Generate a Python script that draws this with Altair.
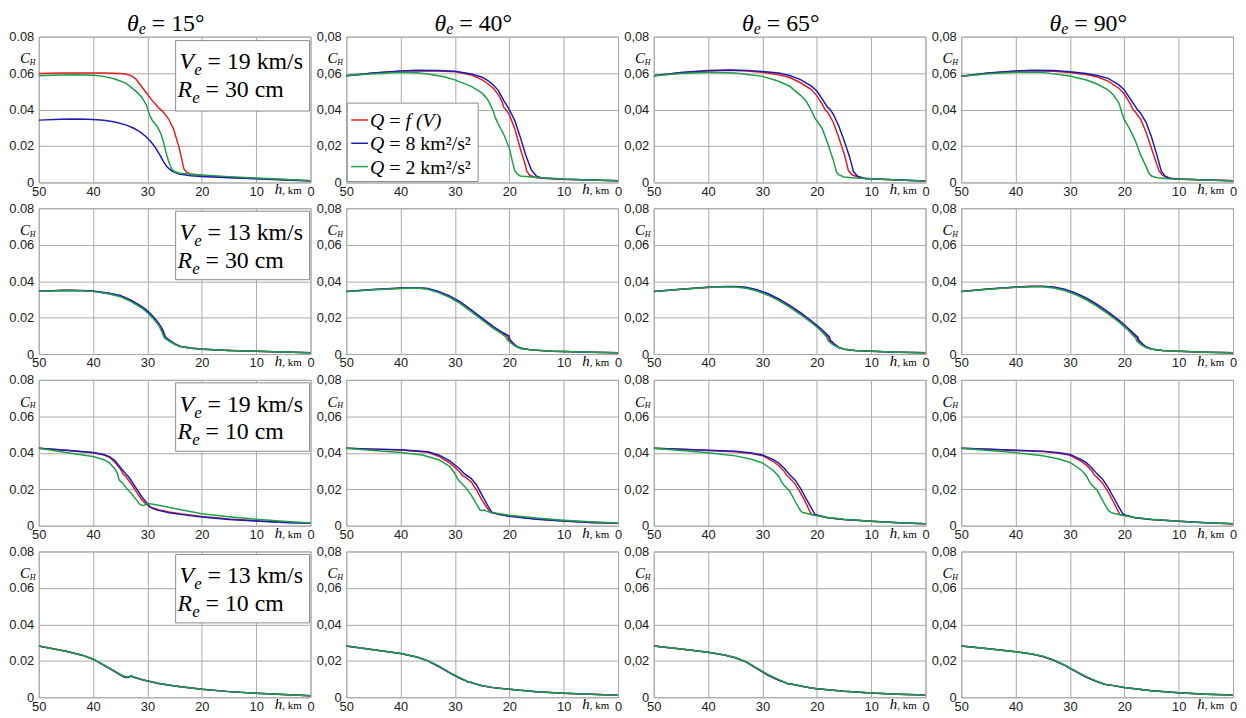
import altair as alt
import pandas as pd

# ---------------- data (h in km, C_H) ----------------
THETA = ["15", "40", "65", "90"]
ROW_V = ["19", "13", "19", "13"]
ROW_R = ["30", "30", "10", "10"]
X_TICKS = [50, 40, 30, 20, 10, 0]
Y_TICKS = [0, 0.02, 0.04, 0.06, 0.08]
LEGEND = ["f (V)", "8 km²/s²", "2 km²/s²"]

# Row 1: Ve = 19 km/s, Re = 30 cm
P11_RED = [(50,0.0598),(46,0.0600),(42,0.0601),(38,0.0600),(35,0.0598),(34,0.0595),(33,0.0586),(32.2,0.0570),(31.5,0.0543),(30.3,0.0495),(29.1,0.0449),(27.9,0.0408),(27.3,0.0393),(26.7,0.0372),(26.1,0.0348),(25.2,0.0293),(24.2,0.0194),(23.3,0.0075),(22.8,0.0056),(22,0.0046),(20,0.0038),(15,0.0029),(10,0.0022),(5,0.0016),(0,0.0010)]
P11_BLUE = [(50,0.0342),(46,0.0347),(43,0.0348),(40,0.0346),(38,0.0341),(36,0.0332),(34,0.0316),(32.7,0.0300),(31.5,0.0280),(30.3,0.0252),(29.4,0.0225),(28.5,0.0190),(27.7,0.0150),(27,0.0112),(26.5,0.0090),(26.2,0.0080),(25.5,0.0062),(24.2,0.0046),(22,0.0037),(20,0.0033),(15,0.0026),(10,0.0020),(5,0.0014),(0,0.0008)]
P11_GREEN = [(50,0.0586),(46,0.0590),(43,0.0591),(40,0.0588),(38,0.0582),(36,0.0568),(34,0.0545),(33,0.0522),(32,0.0497),(31,0.0466),(30.2,0.0425),(29.6,0.0370),(29.1,0.0340),(28.5,0.0318),(28,0.0295),(27.5,0.0265),(27,0.0215),(26.5,0.0155),(26,0.0105),(25.5,0.0072),(25,0.0060),(24,0.0051),(22,0.0045),(20,0.0041),(15,0.0032),(10,0.0025),(5,0.0017),(0,0.0010)]

P12_RED = [(50,0.0585),(45,0.0600),(40,0.0610),(37,0.0613),(33,0.0612),(30,0.0608),(27,0.0590),(25,0.0563),(24,0.0543),(23,0.0518),(22,0.0482),(21.3,0.0440),(21,0.0412),(20.6,0.0398),(20,0.0372),(19,0.0295),(18,0.0188),(17,0.0090),(16.8,0.0062),(16.2,0.0038),(15,0.0026),(14,0.0023),(10,0.0017),(5,0.0013),(0,0.0010)]
P12_BLUE = [(50,0.0585),(45,0.0601),(40,0.0612),(37,0.0615),(33,0.0614),(30,0.0610),(27,0.0595),(25,0.0577),(24,0.0560),(23,0.0536),(22,0.0504),(21,0.0448),(20.4,0.0420),(20,0.0400),(19,0.0340),(18,0.0250),(17,0.0152),(16,0.0072),(15.6,0.0056),(15,0.0035),(14,0.0025),(10,0.0017),(5,0.0013),(0,0.0010)]
P12_GREEN = [(50,0.0585),(45,0.0597),(40,0.0605),(37,0.0602),(35,0.0595),(32,0.0580),(30,0.0563),(27,0.0527),(25,0.0490),(24,0.0455),(23,0.0395),(22.5,0.0350),(22,0.0318),(21,0.0262),(20,0.0188),(19.4,0.0110),(19,0.0065),(18.5,0.0045),(18,0.0036),(16,0.0030),(14,0.0026),(10,0.0019),(5,0.0014),(0,0.0010)]

P13_RED = [(50,0.0585),(45,0.0602),(40,0.0612),(36,0.0615),(33,0.0612),(30,0.0605),(27,0.0591),(25,0.0576),(23,0.0547),(21,0.0510),(20,0.0475),(19,0.0430),(18.4,0.0395),(18,0.0385),(17,0.0332),(16,0.0250),(15,0.0160),(14.5,0.0105),(14.2,0.0065),(13.5,0.0042),(12,0.0025),(10,0.0020),(5,0.0014),(0,0.0008)]
P13_BLUE = [(50,0.0585),(45,0.0603),(40,0.0614),(36,0.0617),(33,0.0615),(30,0.0609),(27,0.0600),(25,0.0587),(23,0.0564),(21,0.0528),(20,0.0502),(19,0.0457),(18,0.0412),(17.7,0.0405),(17,0.0376),(16,0.0313),(15,0.0232),(14,0.0142),(13.5,0.0088),(13.3,0.0062),(12.5,0.0034),(11,0.0021),(10,0.0020),(5,0.0014),(0,0.0008)]
P13_GREEN = [(50,0.0585),(45,0.0598),(40,0.0605),(35,0.0601),(30,0.0582),(27,0.0555),(25,0.0528),(23,0.0478),(22,0.0448),(21,0.0395),(20.3,0.0350),(19.5,0.0318),(19,0.0295),(18,0.0215),(17,0.0125),(16.4,0.0058),(16,0.0043),(15,0.0030),(13,0.0024),(10,0.0020),(5,0.0014),(0,0.0008)]

P14_RED = [(50,0.0583),(45,0.0600),(40,0.0610),(37,0.0613),(33,0.0610),(30,0.0603),(27,0.0592),(25,0.0580),(23,0.0556),(21,0.0517),(20,0.0485),(19,0.0437),(18.3,0.0395),(18,0.0388),(17,0.0347),(16,0.0276),(15,0.0186),(14,0.0097),(13.6,0.0062),(13,0.0040),(12,0.0025),(10,0.0019),(5,0.0014),(0,0.0010)]
P14_BLUE = [(50,0.0583),(45,0.0601),(40,0.0612),(37,0.0616),(33,0.0614),(30,0.0607),(27,0.0598),(25,0.0587),(23,0.0571),(21,0.0535),(20,0.0508),(19,0.0463),(18,0.0419),(17.6,0.0400),(17,0.0380),(16,0.0330),(15,0.0249),(14,0.0150),(13.2,0.0062),(12.5,0.0035),(11.5,0.0022),(10,0.0019),(5,0.0014),(0,0.0010)]
P14_GREEN = [(50,0.0583),(45,0.0597),(40,0.0605),(35,0.0604),(30,0.0584),(27,0.0562),(25,0.0540),(23,0.0508),(22,0.0480),(21,0.0437),(20.3,0.0368),(20,0.0345),(19,0.0293),(18,0.0231),(17,0.0150),(16,0.0088),(15.5,0.0052),(15,0.0035),(14,0.0026),(12,0.0021),(10,0.0018),(5,0.0014),(0,0.0010)]

# Row 2: Ve = 13 km/s, Re = 30 cm
P21_RED = [(50,0.0344),(45,0.0350),(42,0.0348),(40,0.0345),(37,0.0332),(35,0.0318),(33,0.0292),(31,0.0256),(30,0.0232),(29,0.0202),(28,0.0166),(27.3,0.0130),(26.8,0.0093),(26.2,0.0078),(25,0.0055),(24,0.0042),(22,0.0032),(20,0.0027),(15,0.0020),(10,0.0015),(5,0.0011),(0,0.0007)]
P21_BLUE = [(50,0.0344),(45,0.0350),(42,0.0349),(40,0.0346),(37,0.0334),(35,0.0321),(33,0.0296),(31,0.0260),(30,0.0237),(29,0.0207),(28,0.0172),(27.2,0.0135),(26.7,0.0095),(26.1,0.0080),(25,0.0057),(24,0.0043),(22,0.0033),(20,0.0028),(15,0.0020),(10,0.0015),(5,0.0011),(0,0.0007)]
P21_GREEN = [(50,0.0344),(45,0.0349),(42,0.0347),(40,0.0344),(37,0.0330),(35,0.0315),(33,0.0288),(31,0.0252),(30,0.0227),(29,0.0197),(28,0.0161),(27.4,0.0126),(26.9,0.0090),(26.3,0.0077),(25,0.0054),(24,0.0041),(22,0.0032),(20,0.0027),(15,0.0020),(10,0.0015),(5,0.0011),(0,0.0007)]

P22_RED = [(50,0.0343),(45,0.0354),(40,0.0361),(37,0.0363),(35,0.0358),(33,0.0340),(31,0.0315),(29,0.0282),(27,0.0238),(25,0.0192),(23,0.0147),(21.5,0.0118),(20.3,0.0097),(20.1,0.0078),(19.5,0.0060),(19,0.0047),(18,0.0032),(16,0.0023),(12,0.0016),(10,0.0014),(5,0.0010),(0,0.0007)]
P22_BLUE = [(50,0.0343),(45,0.0354),(40,0.0362),(37,0.0364),(35,0.0360),(33,0.0343),(31,0.0319),(29,0.0287),(27,0.0243),(25,0.0197),(23,0.0152),(21.5,0.0123),(20.1,0.0100),(19.9,0.0080),(19.3,0.0060),(18.8,0.0046),(18,0.0033),(16,0.0023),(12,0.0016),(10,0.0014),(5,0.0010),(0,0.0007)]
P22_GREEN = [(50,0.0343),(45,0.0353),(40,0.0360),(37,0.0362),(35,0.0356),(33,0.0337),(31,0.0311),(29,0.0277),(27,0.0233),(25,0.0187),(23,0.0142),(21.5,0.0113),(20.6,0.0093),(20.3,0.0075),(19.6,0.0058),(19,0.0045),(18,0.0031),(16,0.0022),(12,0.0016),(10,0.0014),(5,0.0010),(0,0.0007)]

P23_RED = [(50,0.0343),(45,0.0356),(40,0.0366),(37,0.0370),(35,0.0370),(33,0.0364),(31,0.0350),(29,0.0328),(27,0.0298),(25,0.0262),(23,0.0222),(21,0.0178),(19.5,0.0140),(18.3,0.0105),(17.9,0.0092),(17.7,0.0074),(17,0.0055),(16,0.0036),(15,0.0026),(13,0.0019),(10,0.0015),(5,0.0010),(0,0.0007)]
P23_BLUE = [(50,0.0343),(45,0.0356),(40,0.0367),(37,0.0371),(35,0.0371),(33,0.0366),(31,0.0353),(29,0.0332),(27,0.0303),(25,0.0267),(23,0.0227),(21,0.0183),(19.5,0.0145),(18.2,0.0110),(17.7,0.0095),(17.5,0.0076),(16.8,0.0056),(16,0.0038),(15,0.0027),(13,0.0019),(10,0.0015),(5,0.0010),(0,0.0007)]
P23_GREEN = [(50,0.0343),(45,0.0355),(40,0.0365),(37,0.0369),(35,0.0368),(33,0.0361),(31,0.0346),(29,0.0323),(27,0.0293),(25,0.0257),(23,0.0217),(21,0.0173),(19.5,0.0135),(18.5,0.0105),(18.1,0.0090),(17.9,0.0072),(17.2,0.0054),(16,0.0035),(15,0.0026),(13,0.0019),(10,0.0015),(5,0.0010),(0,0.0007)]

P24_RED = [(50,0.0343),(45,0.0357),(40,0.0367),(37,0.0371),(35,0.0371),(33,0.0366),(31,0.0353),(29,0.0332),(27,0.0303),(25,0.0267),(23,0.0226),(21,0.0181),(19.5,0.0142),(18.2,0.0104),(17.7,0.0090),(17.5,0.0073),(16.8,0.0054),(16,0.0038),(15,0.0027),(13,0.0019),(10,0.0015),(5,0.0010),(0,0.0007)]
P24_BLUE = [(50,0.0343),(45,0.0357),(40,0.0368),(37,0.0372),(35,0.0372),(33,0.0368),(31,0.0356),(29,0.0336),(27,0.0308),(25,0.0272),(23,0.0231),(21,0.0186),(19.5,0.0147),(18.1,0.0108),(17.5,0.0093),(17.3,0.0075),(16.6,0.0055),(16,0.0040),(15,0.0028),(13,0.0019),(10,0.0015),(5,0.0010),(0,0.0007)]
P24_GREEN = [(50,0.0343),(45,0.0356),(40,0.0366),(37,0.0370),(35,0.0369),(33,0.0363),(31,0.0349),(29,0.0327),(27,0.0298),(25,0.0262),(23,0.0221),(21,0.0176),(19.5,0.0137),(18.4,0.0102),(17.9,0.0088),(17.7,0.0071),(17,0.0053),(16,0.0036),(15,0.0026),(13,0.0019),(10,0.0015),(5,0.0010),(0,0.0007)]

# Row 3: Ve = 19 km/s, Re = 10 cm
P31_RED = [(50,0.0425),(45,0.0414),(40,0.0400),(38,0.0388),(37,0.0375),(36,0.0348),(35,0.0312),(34.5,0.0284),(34,0.0270),(33,0.0230),(32,0.0184),(31,0.0140),(30,0.0112),(29.5,0.0102),(29,0.0097),(28,0.0088),(26,0.0075),(24,0.0066),(20,0.0051),(15,0.0037),(10,0.0027),(5,0.0019),(0,0.0013)]
P31_BLUE = [(50,0.0425),(45,0.0414),(40,0.0401),(38,0.0390),(37,0.0379),(36,0.0357),(35,0.0321),(34,0.0285),(33.5,0.0270),(33,0.0248),(32,0.0202),(31,0.0157),(30,0.0121),(29.5,0.0103),(29,0.0094),(28,0.0084),(26,0.0071),(24,0.0062),(20,0.0047),(15,0.0034),(10,0.0025),(5,0.0018),(0,0.0013)]
P31_GREEN = [(50,0.0425),(45,0.0401),(40,0.0379),(38,0.0362),(37,0.0345),(36,0.0312),(35.5,0.0285),(35.2,0.0250),(34.5,0.0232),(34,0.0210),(33,0.0178),(32,0.0140),(31.5,0.0120),(31,0.0111),(30.6,0.0112),(30,0.0122),(29,0.0118),(27,0.0106),(25,0.0094),(20,0.0066),(15,0.0049),(10,0.0035),(5,0.0024),(0,0.0015)]

P32_RED = [(50,0.0425),(45,0.0420),(40,0.0415),(35,0.0403),(33,0.0381),(31,0.0344),(30,0.0320),(29,0.0290),(28.6,0.0275),(28,0.0265),(27,0.0240),(26,0.0193),(25,0.0139),(24,0.0094),(23.5,0.0072),(23,0.0069),(22,0.0063),(20,0.0053),(15,0.0036),(10,0.0026),(5,0.0018),(0,0.0013)]
P32_BLUE = [(50,0.0425),(45,0.0420),(40,0.0416),(35,0.0405),(33,0.0388),(31,0.0357),(30,0.0333),(29,0.0308),(28.3,0.0285),(27,0.0258),(26,0.0222),(25,0.0166),(24,0.0112),(23.3,0.0076),(23,0.0072),(22,0.0063),(20,0.0052),(15,0.0035),(10,0.0025),(5,0.0018),(0,0.0013)]
P32_GREEN = [(50,0.0425),(45,0.0413),(40,0.0401),(36,0.0388),(33,0.0362),(31,0.0326),(30,0.0285),(29.5,0.0256),(29,0.0238),(28,0.0208),(27,0.0168),(26,0.0117),(25.4,0.0086),(25,0.0083),(24.6,0.0086),(24,0.0077),(23,0.0071),(20,0.0057),(15,0.0042),(10,0.0030),(5,0.0021),(0,0.0015)]

P33_RED = [(50,0.0425),(45,0.0419),(40,0.0413),(35,0.0406),(32,0.0396),(30,0.0384),(28,0.0352),(27,0.0329),(26,0.0298),(25.5,0.0275),(25,0.0262),(24,0.0228),(23,0.0180),(22,0.0124),(21.2,0.0072),(20.9,0.0061),(20,0.0057),(18,0.0044),(15,0.0034),(10,0.0024),(5,0.0016),(0,0.0011)]
P33_BLUE = [(50,0.0425),(45,0.0419),(40,0.0414),(35,0.0408),(32,0.0399),(30,0.0388),(28,0.0362),(27,0.0343),(26,0.0315),(25.2,0.0286),(24,0.0250),(23,0.0205),(22,0.0150),(21,0.0096),(20.4,0.0064),(20,0.0059),(18,0.0043),(15,0.0034),(10,0.0024),(5,0.0016),(0,0.0011)]
P33_GREEN = [(50,0.0425),(45,0.0412),(40,0.0400),(35,0.0383),(32,0.0364),(30,0.0344),(28,0.0303),(27,0.0270),(26.5,0.0240),(26,0.0221),(25,0.0190),(24,0.0134),(23,0.0082),(22.6,0.0072),(22,0.0068),(21,0.0061),(20,0.0054),(18,0.0045),(15,0.0035),(10,0.0024),(5,0.0016),(0,0.0011)]

P34_RED = [(50,0.0425),(45,0.0419),(40,0.0413),(35,0.0407),(32,0.0397),(30,0.0386),(28,0.0355),(27,0.0332),(26,0.0301),(25.4,0.0274),(25,0.0265),(24,0.0233),(23,0.0186),(22,0.0130),(21,0.0072),(20.8,0.0061),(20,0.0057),(18,0.0044),(15,0.0034),(10,0.0024),(5,0.0016),(0,0.0011)]
P34_BLUE = [(50,0.0425),(45,0.0419),(40,0.0414),(35,0.0409),(32,0.0400),(30,0.0390),(28,0.0364),(27,0.0346),(26,0.0318),(25.1,0.0287),(24,0.0255),(23,0.0210),(22,0.0156),(21,0.0102),(20.3,0.0066),(20,0.0060),(18,0.0043),(15,0.0034),(10,0.0024),(5,0.0016),(0,0.0011)]
P34_GREEN = [(50,0.0425),(45,0.0412),(40,0.0401),(35,0.0384),(32,0.0366),(30,0.0347),(28,0.0307),(27,0.0275),(26.4,0.0240),(26,0.0224),(25,0.0194),(24,0.0139),(23,0.0086),(22.5,0.0073),(22,0.0068),(21,0.0061),(20,0.0054),(18,0.0045),(15,0.0035),(10,0.0024),(5,0.0016),(0,0.0011)]

# Row 4: Ve = 13 km/s, Re = 10 cm
P41_RED = [(50,0.0281),(45,0.0252),(42,0.0231),(40,0.0209),(38,0.0176),(36,0.0142),(34.5,0.0116),(34,0.0110),(33.3,0.0112),(33,0.0117),(32.5,0.0111),(31,0.0097),(30,0.0090),(28,0.0077),(25,0.0062),(20,0.0044),(15,0.0031),(10,0.0022),(5,0.0015),(0,0.0009)]
P41_BLUE = [(50,0.0281),(45,0.0252),(42,0.0231),(40,0.0209),(38,0.0175),(36,0.0141),(34.5,0.0114),(34,0.0108),(33.3,0.0110),(33,0.0117),(32.5,0.0110),(31,0.0096),(30,0.0089),(28,0.0076),(25,0.0062),(20,0.0044),(15,0.0031),(10,0.0022),(5,0.0015),(0,0.0009)]
P41_GREEN = [(50,0.0281),(45,0.0252),(42,0.0231),(40,0.0210),(38,0.0177),(36,0.0144),(34.5,0.0118),(34,0.0112),(33.4,0.0113),(33.1,0.0118),(32.5,0.0111),(31,0.0097),(30,0.0090),(28,0.0077),(25,0.0062),(20,0.0044),(15,0.0031),(10,0.0022),(5,0.0015),(0,0.0009)]

P42_RED = [(50,0.0281),(45,0.0261),(40,0.0240),(37,0.0221),(35,0.0200),(33,0.0170),(31,0.0135),(29,0.0104),(28,0.0091),(27.5,0.0083),(27.3,0.0083),(27,0.0081),(26,0.0071),(25,0.0063),(23,0.0053),(20,0.0044),(15,0.0030),(10,0.0022),(5,0.0016),(0,0.0011)]
P42_BLUE = [(50,0.0281),(45,0.0261),(40,0.0240),(37,0.0221),(35,0.0200),(33,0.0169),(31,0.0134),(29,0.0103),(28,0.0090),(27.5,0.0082),(27.3,0.0083),(27,0.0081),(26,0.0071),(25,0.0063),(23,0.0053),(20,0.0044),(15,0.0030),(10,0.0022),(5,0.0016),(0,0.0011)]
P42_GREEN = [(50,0.0281),(45,0.0261),(40,0.0240),(37,0.0221),(35,0.0201),(33,0.0172),(31,0.0137),(29,0.0106),(28,0.0092),(27.6,0.0085),(27.3,0.0083),(27,0.0082),(26,0.0071),(25,0.0063),(23,0.0053),(20,0.0044),(15,0.0030),(10,0.0022),(5,0.0016),(0,0.0011)]

P43_RED = [(50,0.0281),(45,0.0265),(40,0.0247),(37,0.0232),(35,0.0217),(33,0.0194),(31,0.0158),(29,0.0123),(27,0.0095),(25.6,0.0079),(25.4,0.0075),(25,0.0073),(24,0.0069),(23,0.0062),(21,0.0051),(20,0.0047),(15,0.0033),(10,0.0024),(5,0.0017),(0,0.0013)]
P43_BLUE = [(50,0.0281),(45,0.0265),(40,0.0247),(37,0.0232),(35,0.0217),(33,0.0193),(31,0.0157),(29,0.0121),(27,0.0093),(25.6,0.0078),(25.4,0.0074),(25,0.0073),(24,0.0069),(23,0.0062),(21,0.0051),(20,0.0047),(15,0.0033),(10,0.0024),(5,0.0017),(0,0.0013)]
P43_GREEN = [(50,0.0281),(45,0.0265),(40,0.0247),(37,0.0232),(35,0.0218),(33,0.0195),(31,0.0160),(29,0.0125),(27,0.0097),(25.7,0.0080),(25.5,0.0075),(25,0.0073),(24,0.0069),(23,0.0062),(21,0.0051),(20,0.0047),(15,0.0033),(10,0.0024),(5,0.0017),(0,0.0013)]

P44_RED = [(50,0.0281),(45,0.0266),(40,0.0250),(37,0.0237),(35,0.0224),(33,0.0204),(31,0.0176),(29,0.0144),(27,0.0112),(25,0.0086),(24,0.0076),(23.7,0.0072),(23.4,0.0070),(23,0.0069),(22,0.0064),(20,0.0054),(15,0.0036),(10,0.0025),(5,0.0017),(0,0.0012)]
P44_BLUE = [(50,0.0281),(45,0.0266),(40,0.0250),(37,0.0237),(35,0.0224),(33,0.0203),(31,0.0175),(29,0.0142),(27,0.0110),(25,0.0085),(24,0.0075),(23.7,0.0071),(23.4,0.0070),(23,0.0069),(22,0.0064),(20,0.0054),(15,0.0036),(10,0.0025),(5,0.0017),(0,0.0012)]
P44_GREEN = [(50,0.0281),(45,0.0266),(40,0.0250),(37,0.0237),(35,0.0225),(33,0.0205),(31,0.0177),(29,0.0145),(27,0.0113),(25,0.0087),(24,0.0077),(23.7,0.0073),(23.4,0.0070),(23,0.0069),(22,0.0064),(20,0.0054),(15,0.0036),(10,0.0025),(5,0.0017),(0,0.0012)]

PANELS = [
    [(P11_RED, P11_BLUE, P11_GREEN), (P12_RED, P12_BLUE, P12_GREEN), (P13_RED, P13_BLUE, P13_GREEN), (P14_RED, P14_BLUE, P14_GREEN)],
    [(P21_RED, P21_BLUE, P21_GREEN), (P22_RED, P22_BLUE, P22_GREEN), (P23_RED, P23_BLUE, P23_GREEN), (P24_RED, P24_BLUE, P24_GREEN)],
    [(P31_RED, P31_BLUE, P31_GREEN), (P32_RED, P32_BLUE, P32_GREEN), (P33_RED, P33_BLUE, P33_GREEN), (P34_RED, P34_BLUE, P34_GREEN)],
    [(P41_RED, P41_BLUE, P41_GREEN), (P42_RED, P42_BLUE, P42_GREEN), (P43_RED, P43_BLUE, P43_GREEN), (P44_RED, P44_BLUE, P44_GREEN)],
]

# ---------------- style ----------------
W, H = 274, 147
RED, BLUE, GREEN = "#de1f1f", "#1c1cb8", "#1f9e4a"
GRID = "#a9a9a9"
SERIF = "Liberation Serif"
SANS = "Liberation Sans"
ONE = pd.DataFrame({"k": [0]})

EM = {" ": 0.25, "=": 0.564, "k": 0.5, "m": 0.778, "/": 0.278, "s": 0.389, "c": 0.444,
      "°": 0.4, ",": 0.25, "²": 0.3, "(": 0.333, ")": 0.333, "V": 0.611, "R": 0.611,
      "e": 0.444, "Q": 0.722, "f": 0.278, "θ": 0.5, "h": 0.5, "C": 0.667, "H": 0.722}


def tw(s, size):
    return sum(EM.get(ch, 0.5) for ch in s) * size


def rich(pieces, x0, y0):
    layers = []
    x = x0
    for text, size, italic, dy in pieces:
        lead = len(text) - len(text.lstrip(" "))
        x += lead * EM[" "] * size
        t = text.lstrip(" ")
        if t:
            layers.append(
                alt.Chart(ONE).mark_text(
                    text=t, font=SERIF, fontSize=size,
                    fontStyle="italic" if italic else "normal",
                    align="left", baseline="alphabetic", color="black",
                ).encode(x=alt.value(x), y=alt.value(y0 + dy))
            )
        x += tw(t, size)
    return layers


def rich_width(pieces):
    return sum(tw(t, s) for t, s, _, _ in pieces)


def line_layer(pts, color, col):
    df = pd.DataFrame(pts, columns=["h", "c"])
    if col == 0:
        expr = "datum.value == 0 ? '0' : format(datum.value, '.2f')"
    else:
        expr = "datum.value == 0 ? '0' : replace(format(datum.value, '.2f'), '.', ',')"
    xaxis = alt.Axis(values=X_TICKS, grid=True, gridColor=GRID, gridWidth=1, ticks=False,
                     domain=False, labelFont=SANS, labelFontSize=13, labelColor="#222",
                     labelPadding=3, labelFlush=False, title=None)
    yaxis = alt.Axis(values=Y_TICKS, grid=True, gridColor=GRID, gridWidth=1, ticks=False,
                     domain=False, labelFont=SANS, labelFontSize=13, labelColor="#222",
                     labelPadding=5, labelExpr=expr, title=None)
    return alt.Chart(df).mark_line(color=color, strokeWidth=1.5, clip=True).encode(
        x=alt.X("h:Q", scale=alt.Scale(domain=[50, 0], nice=False), axis=xaxis),
        y=alt.Y("c:Q", scale=alt.Scale(domain=[0, 0.08], nice=False), axis=yaxis),
    )


def panel(r, c):
    red, blue, green = PANELS[r][c]
    layers = []
    if c == 0:
        y_top, y_bot = (4, 75) if r == 0 else (3, 72)
        layers.append(
            alt.Chart(ONE).mark_rect(fill="white", stroke="#8c8c8c", strokeWidth=1).encode(
                x=alt.value(138), x2=alt.value(273), y=alt.value(y_top), y2=alt.value(y_bot))
        )
    if r == 0 and c == 1:
        layers.append(
            alt.Chart(ONE).mark_rect(fill="white", stroke="#8c8c8c", strokeWidth=1).encode(
                x=alt.value(1), x2=alt.value(133), y=alt.value(67), y2=alt.value(146))
        )
    layers += [line_layer(red, RED, c), line_layer(blue, BLUE, c), line_layer(green, GREEN, c)]

    # axis captions
    layers += rich([("C", 15, True, 0), ("H", 8, True, 1.5)], -19, 27)
    layers += rich([("h", 15, True, 0), (", km", 11, False, 0)], 238, H + 12)

    if c == 0:
        off = 1 if r == 0 else 0
        layers += rich([("V", 24, True, 0), ("e", 17, True, 6), (" = " + ROW_V[r] + " km/s", 24, False, 0)], 142, 32 + off)
        layers += rich([("R", 24, True, 0), ("e", 17, True, 6), (" = " + ROW_R[r] + " cm", 24, False, 0)], 140, 60 + off)

    if r == 0 and c == 1:
        for i, (col, lab) in enumerate(zip([RED, BLUE, GREEN], LEGEND)):
            yb = 91 + i * 23.5
            layers.append(
                alt.Chart(ONE).mark_rule(color=col, strokeWidth=1.5).encode(
                    x=alt.value(5), x2=alt.value(22), y=alt.value(yb - 7))
            )
            if i == 0:
                pieces = [("Q", 20, True, 0), (" = ", 20, False, 0), ("f (V)", 20, True, 0)]
            else:
                pieces = [("Q", 20, True, 0), (" = " + lab, 20, False, 0)]
            layers += rich(pieces, 24, yb)

    if r == 0:
        pieces = [("θ", 24, True, 0), ("e", 16, True, 3), (" = " + THETA[c] + "°", 24, False, 0)]
        layers += rich(pieces, 128 - rich_width(pieces) / 2, -6)

    return alt.layer(*layers).properties(width=W, height=H)


rows = [alt.hconcat(*[panel(r, c) for c in range(4)], spacing=0) for r in range(4)]
chart = (
    alt.vconcat(*rows, spacing=2)
    .properties(padding={"left": 0, "top": 0, "right": 0, "bottom": 0}, background="white")
    .configure_view(stroke=GRID, strokeWidth=1)
)

chart.save("out.html", embed_options={"renderer": "svg", "actions": False})
